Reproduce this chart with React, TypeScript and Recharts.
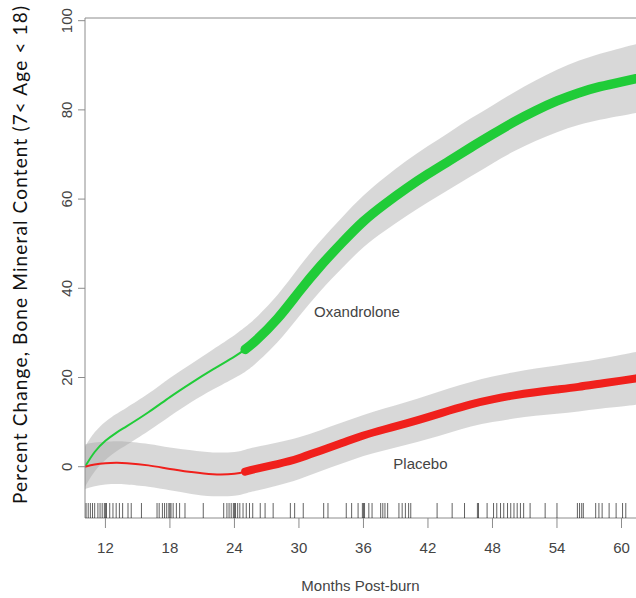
import { ComposedChart, Area, Line, Scatter, XAxis, YAxis, ReferenceLine, ReferenceDot } from 'recharts'

const months = [10.1, 11, 12, 13, 14, 16, 18, 20, 22, 24, 25, 26, 28, 30, 32, 34, 36, 38, 40, 42, 44, 46, 48, 50, 52, 54, 56, 58, 60, 61.35]

const oxandrolone = [0, 3.3, 5.8, 7.6, 9.1, 12.2, 15.6, 18.8, 21.8, 24.7, 26.3, 28.3, 33.2, 39.2, 45.0, 50.2, 55.0, 58.9, 62.4, 65.6, 68.6, 71.6, 74.5, 77.3, 79.8, 82.0, 83.8, 85.2, 86.3, 87.0]
const oxLower = [-4.5, -1.1, 1.5, 3.4, 4.9, 8.0, 11.3, 14.5, 17.3, 19.9, 21.3, 23.2, 27.9, 33.7, 39.4, 44.5, 49.2, 52.9, 56.2, 59.3, 62.2, 65.1, 68.0, 70.7, 73.0, 75.0, 76.6, 77.8, 78.7, 79.3]
const oxUpper = [4.5, 7.7, 10.1, 11.8, 13.3, 16.4, 19.9, 23.1, 26.3, 29.5, 31.3, 33.4, 38.5, 44.7, 50.6, 55.9, 60.8, 64.9, 68.6, 71.9, 75.0, 78.1, 81.0, 83.9, 86.6, 89.0, 91.0, 92.6, 93.9, 94.7]

const placebo = [0, 0.5, 0.8, 0.9, 0.8, 0.3, -0.5, -1.2, -1.7, -1.6, -1.1, -0.5, 0.6, 1.9, 3.6, 5.3, 7.0, 8.4, 9.7, 11.1, 12.6, 14.0, 15.1, 16.0, 16.7, 17.3, 17.9, 18.6, 19.3, 19.8]
const plLower = [-5.0, -4.4, -4.0, -3.9, -4.0, -4.5, -5.3, -6.1, -6.6, -6.5, -6.0, -5.4, -4.2, -2.8, -1.0, 0.7, 2.4, 3.7, 4.9, 6.2, 7.6, 9.0, 10.0, 10.8, 11.4, 11.9, 12.4, 13.0, 13.5, 13.9]
const plUpper = [5.0, 5.4, 5.6, 5.7, 5.6, 5.1, 4.3, 3.7, 3.2, 3.3, 3.8, 4.4, 5.4, 6.6, 8.2, 9.9, 11.6, 13.1, 14.5, 16.0, 17.6, 19.0, 20.2, 21.2, 22.0, 22.7, 23.4, 24.2, 25.1, 25.7]

// observation times shown as the rug along the bottom
const rugMonths = [
  10.2, 10.4, 10.6, 10.8, 11.0, 11.3, 11.5, 11.7, 11.9, 12.0, 12.1, 12.4, 12.7, 13.0, 13.3, 13.6, 14.1, 14.4, 15.35,
  16.8, 17.0, 17.3, 17.5, 17.7, 17.9, 18.0, 18.1, 18.3, 18.6, 18.9, 19.4, 21.1,
  23.0, 23.3, 23.5, 23.7, 23.9, 24.0, 24.1, 24.3, 24.5, 24.8, 25.1, 25.4, 25.7, 26.4, 26.85, 27.6, 29.2, 29.6, 30.4,
  32.3, 32.7, 34.4, 34.9, 35.5, 35.9, 36.0, 36.1, 36.5, 36.8, 37.6, 37.8, 38.0, 38.25, 39.3, 39.6, 39.9, 40.2, 40.4,
  42.85, 44.25, 45.4, 46.6, 46.7, 47.5, 48.1, 48.4, 48.75, 49.05, 49.4, 49.7, 50.0, 50.3, 50.6, 50.9, 51.5, 52.9,
  54.0, 55.9, 56.1, 56.3, 56.45, 57.6, 57.9, 58.2, 58.85, 59.5, 60.1, 60.4,
]

const xTicks = [12, 18, 24, 30, 36, 42, 48, 54, 60]
const yTicks = [0, 20, 40, 60, 80, 100]

const SPLIT = 25
const X_MIN = 10.1
const X_MAX = 61.35
const Y_MIN = -11.5
const Y_MAX = 100.6

const rows = months.map((m, i) => ({
  m,
  oxBand: [oxLower[i], oxUpper[i]],
  plBand: [plLower[i], plUpper[i]],
  oxEarly: m <= SPLIT ? oxandrolone[i] : null,
  oxLate: m >= SPLIT ? oxandrolone[i] : null,
  plEarly: m <= SPLIT ? placebo[i] : null,
  plLate: m >= SPLIT ? placebo[i] : null,
}))

const rug = rugMonths.map((m) => ({ m, v: Y_MIN }))

const FONT = '"Liberation Sans", Arial, sans-serif'
const AXIS = '#8c8c8c'
const GREEN = '#20cc38'
const RED = '#f0201c'

const XTick = ({ x, y, payload }: any) => (
  <text x={x} y={y + 23} textAnchor="middle" fontSize={15} fontFamily={FONT} fill="#444">
    {payload.value}
  </text>
)

const YTick = ({ x, y, payload }: any) => (
  <text x={x - 4} y={y} transform={`rotate(-90, ${x - 4}, ${y})`} textAnchor="middle" fontSize={15} fontFamily={FONT} fill="#444">
    {payload.value}
  </text>
)

const RugMark = ({ cx, cy }: any) => (
  <line x1={cx} x2={cx} y1={cy} y2={cy - 15} stroke="#000" strokeOpacity={0.62} strokeWidth={1} />
)

export default function App() {
  return (
    <div style={{ position: 'absolute', left: 0, top: 0, width: 636, height: 598, overflow: 'hidden', background: '#fff' }}>
      <ComposedChart width={636} height={598} data={rows} margin={{ top: 18, right: 0, left: 0, bottom: 0 }}>
        <XAxis
          dataKey="m"
          type="number"
          domain={[X_MIN, X_MAX]}
          allowDataOverflow
          ticks={xTicks}
          height={80}
          tickSize={10}
          stroke={AXIS}
          tick={<XTick />}
          label={({ viewBox }: any) => (
            <text x={viewBox.x + viewBox.width / 2} y={591} textAnchor="middle" fontSize={15} fontFamily={FONT} fill="#444">
              Months Post-burn
            </text>
          )}
        />
        <YAxis
          type="number"
          domain={[Y_MIN, Y_MAX]}
          allowDataOverflow
          ticks={yTicks}
          width={85}
          tickSize={7}
          stroke={AXIS}
          tick={<YTick />}
        />
        <ReferenceLine y={Y_MAX} stroke={AXIS} />

        <Area dataKey="oxBand" type="natural" stroke="none" fill="#a8a8a8" fillOpacity={0.45} isAnimationActive={false} />
        <Area dataKey="plBand" type="natural" stroke="none" fill="#a8a8a8" fillOpacity={0.45} isAnimationActive={false} />

        <Line dataKey="oxEarly" type="natural" stroke={GREEN} strokeWidth={2} dot={false} isAnimationActive={false} />
        <Line dataKey="oxLate" type="natural" stroke={GREEN} strokeWidth={9.5} strokeLinecap="round" dot={false} isAnimationActive={false} />
        <Line dataKey="plEarly" type="natural" stroke={RED} strokeWidth={2} dot={false} isAnimationActive={false} />
        <Line dataKey="plLate" type="natural" stroke={RED} strokeWidth={8} strokeLinecap="round" dot={false} isAnimationActive={false} />

        <Scatter data={rug} dataKey="v" shape={<RugMark />} isAnimationActive={false} />

        <ReferenceDot
          x={35.4}
          y={34.7}
          r={1}
          fill="none"
          stroke="none"
          label={{ value: 'Oxandrolone', position: 'center', fontSize: 15, fontFamily: FONT, fill: '#444' }}
        />
        <ReferenceDot
          x={41.3}
          y={0.6}
          r={1}
          fill="none"
          stroke="none"
          label={{ value: 'Placebo', position: 'center', fontSize: 15, fontFamily: FONT, fill: '#444' }}
        />
      </ComposedChart>
      <svg width={40} height={598} style={{ position: 'absolute', left: 0, top: 0 }}>
        <text
          x={0}
          y={0}
          transform="translate(27, 255) rotate(-90)"
          textAnchor="middle"
          fontSize={19}
          fontFamily="Lato, 'Open Sans', sans-serif"
          textLength={498}
          lengthAdjust="spacing"
          fill="#111"
        >
          Percent Change, Bone Mineral Content (7&lt; Age &lt; 18)
        </text>
      </svg>
    </div>
  )
}
